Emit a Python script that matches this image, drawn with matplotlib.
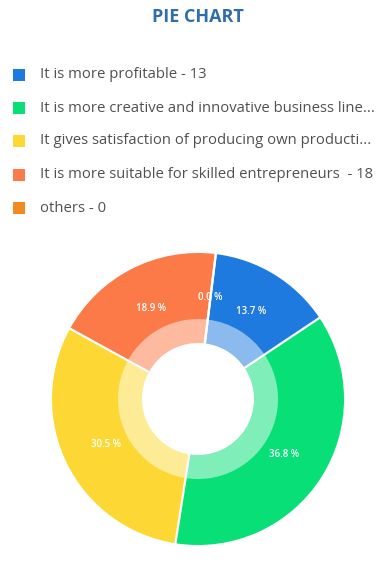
import matplotlib
matplotlib.use("Agg")
import matplotlib.pyplot as plt
import matplotlib.colors as mcolors
import numpy as np

# Survey answers and their counts
categories = [
    "It is more profitable",
    "It is more creative and innovative business line",
    "It gives satisfaction of producing own production",
    "It is more suitable for skilled entrepreneurs ",
    "others",
]
legend_labels = [
    "It is more profitable - 13",
    "It is more creative and innovative business line...",
    "It gives satisfaction of producing own producti...",
    "It is more suitable for skilled entrepreneurs  - 18",
    "others - 0",
]
values = [13, 35, 29, 18, 0]
colors = ["#1f7ae0", "#08df77", "#fdd835", "#fb7a47", "#f28a1d"]

plt.rcParams["font.family"] = ["Open Sans", "DejaVu Sans"]

W, H = 382, 568
fig = plt.figure(figsize=(W / 100, H / 100), dpi=100)
fig.patch.set_facecolor("white")

# Title
fig.text(198 / W, 1 - 17 / H, "PIE CHART", ha="center", va="center",
         fontsize=13, fontweight="bold", color="#2f6eab")

# Legend: coloured squares with labels
row_y = [75, 108, 141, 175, 208]
for lab, col, y in zip(legend_labels, colors, row_y):
    fig.patches.append(plt.Rectangle((13 / W, 1 - (y + 6) / H), 12 / W, 12 / H,
                                     transform=fig.transFigure, facecolor=col,
                                     edgecolor="none"))
    fig.text(40 / W, 1 - y / H, lab, ha="left", va="center",
             fontsize=10.7, color="#505050")

# Donut chart
cx, cy, R = 198, 399, 146
half = 152
ax = fig.add_axes([(cx - half) / W, (H - cy - half) / H, 2 * half / W, 2 * half / H])

start = 83
r_mid = 80 / R
r_in = 56 / R

ax.pie(values, colors=colors, radius=1.0, startangle=start, counterclock=False,
       wedgeprops=dict(width=1.0 - r_mid + 0.005, linewidth=0))

light = [tuple(0.52 * np.array(mcolors.to_rgb(c)) + 0.48) for c in colors]
ax.pie(values, colors=light, radius=r_mid, startangle=start, counterclock=False,
       wedgeprops=dict(width=r_mid - r_in, linewidth=0))

lim = half / R
ax.set_xlim(-lim, lim)
ax.set_ylim(-lim, lim)
ax.set_aspect("equal")
ax.axis("off")

# White separators between segments and percentage labels
total = sum(values)
acc = 0.0
for v in values:
    a = np.radians(start - acc / total * 360)
    ax.plot([r_in * np.cos(a), 1.005 * np.cos(a)], [r_in * np.sin(a), 1.005 * np.sin(a)],
            color="white", lw=1.6, solid_capstyle="butt")
    pct = v / total * 100
    mid = start - (acc + v / 2) / total * 360
    acc += v
    rl = 0.7
    ax.text(rl * np.cos(np.radians(mid)), rl * np.sin(np.radians(mid)),
            f"{pct:.1f} %", ha="center", va="center", fontsize=7,
            fontweight="semibold", color="white")

fig.savefig("out.png", dpi=100, facecolor="white")
